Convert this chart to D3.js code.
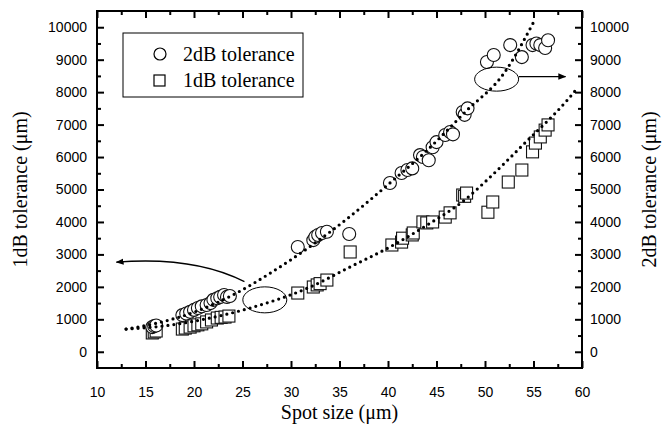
<!DOCTYPE html>
<html>
<head>
<meta charset="utf-8">
<script src="https://cdn.jsdelivr.net/npm/d3@7"></script>
<style>
body { margin: 0; background: #fff; }
svg { display: block; }
</style>
</head>
<body>
<div id="chart"></div>
<script>
let width = 665, height = 424;
let margin = {left: 97, right: 83, top: 11, bottom: 56};

// 2dB tolerance (circles)
let spot2dB = [15.7, 15.9, 16.1, 18.8, 19.2, 19.6, 20.0, 20.4, 20.8, 21.3, 21.7, 22.0, 22.4, 22.7, 23.1, 23.4, 23.7,
    30.7, 32.3, 32.5, 32.8, 33.2, 33.7, 36.0,
    40.2, 41.4, 42.0, 42.5, 43.3, 43.6, 44.2, 44.6, 45.0, 45.9, 46.4, 46.7, 47.7, 47.9, 48.2,
    50.2, 50.9, 52.6, 53.8, 54.9, 55.3, 55.7, 56.2, 56.5];
let tol2dB = [760, 790, 810, 1130, 1180, 1230, 1290, 1350, 1400, 1440, 1500, 1600, 1650, 1690, 1750, 1690, 1720,
    3230, 3440, 3540, 3600, 3660, 3700, 3630,
    5200, 5510, 5600, 5650, 6060, 6000, 5900, 6300, 6460, 6680, 6770, 6700, 7390, 7300, 7500,
    8930, 9145, 9450, 9080, 9450, 9500, 9450, 9360, 9600];

// 1dB tolerance (squares)
let spot1dB = [15.7, 15.9, 16.1, 18.8, 19.1, 19.6, 20.0, 20.4, 20.8, 21.3, 21.8, 22.4, 22.8, 23.2, 23.6,
    30.7, 32.3, 32.7, 33.0, 33.7, 36.1,
    40.4, 41.4, 41.5, 42.5, 42.6, 43.6, 44.0, 44.6, 45.9, 46.4, 47.7, 47.9, 48.1,
    50.3, 50.8, 52.4, 53.8, 54.9, 55.2, 55.7, 56.2, 56.5];
let tol1dB = [580, 610, 640, 700, 730, 760, 800, 830, 860, 920, 980, 1040, 1060, 1070, 1100,
    1810, 1996, 2060, 2100, 2210, 3075,
    3290, 3380, 3500, 3600, 3660, 4000, 3970, 4000, 4150, 4280, 4830, 4790, 4890,
    4300, 4615, 5230, 5600, 6160, 6430, 6620, 6830, 6990];

// dotted fit curves
let fit2dBx = [13, 16, 20, 24, 28, 32, 36, 40, 44, 48, 52, 55];
let fit2dBy = [700, 870, 1220, 1750, 2450, 3250, 4150, 5150, 6200, 7400, 8600, 10150];
let fit1dBx = [13, 17, 21, 25.8, 32, 36, 40.2, 44, 48, 50.2, 54, 58.5, 59.6];
let fit1dBy = [700, 800, 1000, 1350, 2000, 2600, 3230, 3900, 4700, 5290, 6400, 7760, 8150];

let xTicks = [10, 15, 20, 25, 30, 35, 40, 45, 50, 55, 60];
let yTicks = [0, 1000, 2000, 3000, 4000, 5000, 6000, 7000, 8000, 9000, 10000];

let svg = d3.select('#chart')
    .append('svg')
    .attr('width', width)
    .attr('height', height);

let x = d3.scaleLinear().domain([10, 60]).range([margin.left, width - margin.right]);
let y = d3.scaleLinear().domain([-500, 10500]).range([height - margin.bottom, margin.top]);

let xMinor = d3.range(12.5, 60, 5);
let yMinor = d3.range(-500, 10500, 1000).filter(d => d > -500);

let tickFont = 'Liberation Sans, Arial, sans-serif';
let titleFont = 'Liberation Serif, Times New Roman, serif';

function styleAxis(g) {
    g.select('.domain').remove();
    g.selectAll('line').attr('stroke', '#000').attr('stroke-width', 2);
    g.selectAll('text').attr('font-family', tickFont).attr('font-size', 14).attr('fill', '#000');
}

// bottom
svg.append('g')
    .attr('transform', `translate(0,${y(-500)})`)
    .call(d3.axisBottom(x).tickValues(xTicks).tickSize(-7).tickPadding(19).tickFormat(d3.format('d')))
    .call(styleAxis);
svg.append('g')
    .attr('transform', `translate(0,${y(-500)})`)
    .call(d3.axisBottom(x).tickValues(xMinor).tickSize(-4).tickFormat(''))
    .call(styleAxis);
// top
svg.append('g')
    .attr('transform', `translate(0,${y(10500)})`)
    .call(d3.axisTop(x).tickValues(xTicks).tickSize(-7).tickFormat(''))
    .call(styleAxis);
svg.append('g')
    .attr('transform', `translate(0,${y(10500)})`)
    .call(d3.axisTop(x).tickValues(xMinor).tickSize(-4).tickFormat(''))
    .call(styleAxis);
// left
svg.append('g')
    .attr('transform', `translate(${x(10)},0)`)
    .call(d3.axisLeft(y).tickValues(yTicks).tickSize(-7).tickPadding(10).tickFormat(d3.format('d')))
    .call(styleAxis);
svg.append('g')
    .attr('transform', `translate(${x(10)},0)`)
    .call(d3.axisLeft(y).tickValues(yMinor).tickSize(-4).tickFormat(''))
    .call(styleAxis);
// right
svg.append('g')
    .attr('transform', `translate(${x(60)},0)`)
    .call(d3.axisRight(y).tickValues(yTicks).tickSize(-7).tickPadding(8).tickFormat(d3.format('d')))
    .call(styleAxis);
svg.append('g')
    .attr('transform', `translate(${x(60)},0)`)
    .call(d3.axisRight(y).tickValues(yMinor).tickSize(-4).tickFormat(''))
    .call(styleAxis);

// frame
svg.append('rect')
    .attr('x', x(10))
    .attr('y', y(10500))
    .attr('width', x(60) - x(10))
    .attr('height', y(-500) - y(10500))
    .attr('fill', 'none')
    .attr('stroke', '#000')
    .attr('stroke-width', 2);

// markers
let sq = 12;
svg.append('g')
    .selectAll('rect')
    .data(spot1dB)
    .enter()
    .append('rect')
    .attr('x', (d) => x(d) - sq / 2)
    .attr('y', (d, i) => y(tol1dB[i]) - sq / 2)
    .attr('width', sq)
    .attr('height', sq)
    .attr('fill', '#fff')
    .attr('stroke', '#111')
    .attr('stroke-width', 1.1);

svg.append('g')
    .selectAll('circle')
    .data(spot2dB)
    .enter()
    .append('circle')
    .attr('cx', (d) => x(d))
    .attr('cy', (d, i) => y(tol2dB[i]))
    .attr('r', 6.5)
    .attr('fill', '#fff')
    .attr('stroke', '#111')
    .attr('stroke-width', 1.1);

// dotted fits
let line = d3.line()
    .x((d) => x(d[0]))
    .y((d) => y(d[1]))
    .curve(d3.curveMonotoneX);

[[fit2dBx, fit2dBy], [fit1dBx, fit1dBy]].forEach(([fx, fy]) => {
    svg.append('path')
        .attr('d', line(fx.map((d, i) => [d, fy[i]])))
        .attr('fill', 'none')
        .attr('stroke', '#000')
        .attr('stroke-width', 3.2)
        .attr('stroke-linecap', 'round')
        .attr('stroke-dasharray', '0,6');
});

// ellipses and arrows
let defs = svg.append('defs');
defs.append('marker')
    .attr('id', 'arrow')
    .attr('viewBox', '0 0 10 10')
    .attr('refX', 9)
    .attr('refY', 5)
    .attr('markerWidth', 8)
    .attr('markerHeight', 8)
    .attr('markerUnits', 'userSpaceOnUse')
    .attr('orient', 'auto')
    .append('path')
    .attr('d', 'M0,1 L10,5 L0,9 Z')
    .attr('fill', '#000');

svg.append('ellipse')
    .attr('cx', x(27.3)).attr('cy', y(1600))
    .attr('rx', 22).attr('ry', 13)
    .attr('fill', 'none').attr('stroke', '#000').attr('stroke-width', 1);
svg.append('path')
    .attr('d', `M${x(25.2)},${y(2160)} Q${x(20)},${y(2950)} ${x(12)},${y(2760)}`)
    .attr('fill', 'none').attr('stroke', '#000').attr('stroke-width', 1.3)
    .attr('marker-end', 'url(#arrow)');

svg.append('ellipse')
    .attr('cx', x(51.2)).attr('cy', y(8400))
    .attr('rx', 22).attr('ry', 12)
    .attr('fill', 'none').attr('stroke', '#000').attr('stroke-width', 1);
svg.append('path')
    .attr('d', `M${x(53.5)},${y(8480)} L${x(58.3)},${y(8480)}`)
    .attr('fill', 'none').attr('stroke', '#000').attr('stroke-width', 1.3)
    .attr('marker-end', 'url(#arrow)');

// legend
let legend = svg.append('g');
legend.append('rect')
    .attr('x', 123).attr('y', 33)
    .attr('width', 180).attr('height', 64)
    .attr('fill', '#fff').attr('stroke', '#000').attr('stroke-width', 1);
legend.append('circle')
    .attr('cx', 160).attr('cy', 54).attr('r', 6)
    .attr('fill', '#fff').attr('stroke', '#000').attr('stroke-width', 1.2);
legend.append('rect')
    .attr('x', 154).attr('y', 75).attr('width', 11).attr('height', 11)
    .attr('fill', '#fff').attr('stroke', '#000').attr('stroke-width', 1.2);
legend.append('text')
    .attr('x', 183).attr('y', 61)
    .attr('font-family', titleFont).attr('font-size', 20)
    .text('2dB tolerance');
legend.append('text')
    .attr('x', 183).attr('y', 87)
    .attr('font-family', titleFont).attr('font-size', 20)
    .text('1dB tolerance');

// axis titles
svg.append('text')
    .attr('x', (x(10) + x(60)) / 2)
    .attr('y', 419)
    .attr('text-anchor', 'middle')
    .attr('font-family', titleFont).attr('font-size', 20)
    .text('Spot size (μm)');
svg.append('text')
    .attr('transform', `translate(27,${y(5000)}) rotate(-90)`)
    .attr('text-anchor', 'middle')
    .attr('font-family', titleFont).attr('font-size', 20)
    .text('1dB tolerance (μm)');
svg.append('text')
    .attr('transform', `translate(656,${y(5000)}) rotate(-90)`)
    .attr('text-anchor', 'middle')
    .attr('font-family', titleFont).attr('font-size', 20)
    .text('2dB tolerance (μm)');
</script>
</body>
</html>
